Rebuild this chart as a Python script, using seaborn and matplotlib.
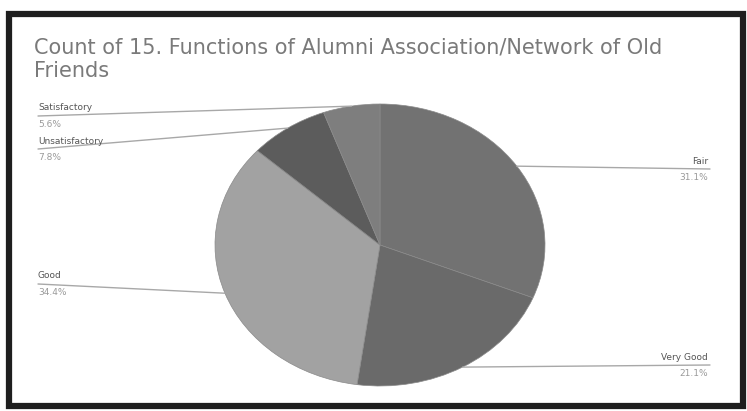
import matplotlib
matplotlib.use("Agg")
import matplotlib.pyplot as plt
from matplotlib.patches import Rectangle
from matplotlib.lines import Line2D
import numpy as np
import seaborn as sns

# Data (counts, n = 90)
categories = ["Fair", "Very Good", "Good", "Unsatisfactory", "Satisfactory"]
counts = [28, 19, 31, 7, 5]
pct_labels = ["31.1%", "21.1%", "34.4%", "7.8%", "5.6%"]
colors = ["#727272", "#6a6a6a", "#a2a2a2", "#5c5c5c", "#7e7e7e"]

sns.set_style("white")
plt.rcParams["font.family"] = ["DejaVu Sans"]

W, H = 747, 411
fig = plt.figure(figsize=(W / 100, H / 100), dpi=100)
fig.patch.set_facecolor("white")


def fx(x):
    return x / W


def fy(y):
    return 1 - y / H


# scanned frame
fig.patches.append(Rectangle((fx(9), fy(406)), fx(734), 392 / H, transform=fig.transFigure,
                             fill=False, edgecolor="#1e1e1e", linewidth=4.5))

fig.text(fx(34), fy(59), "Count of 15. Functions of Alumni Association/Network of Old\nFriends",
         fontsize=15, color="#7a7a7a", ha="left", va="center", linespacing=1.2)

# pie drawn in an axes stretched to the elliptical scan
ax = fig.add_axes([fx(215), fy(386), fx(545) - fx(215), (386 - 104) / H])
wedges, _ = ax.pie(counts, colors=colors, startangle=90, counterclock=False,
                   wedgeprops=dict(linewidth=0.5, edgecolor="#8a8a8a"))
ax.set_xlim(-1, 1)
ax.set_ylim(-1, 1)
ax.set_aspect("auto")
ax.axis("off")

fig.canvas.draw()
to_fig = ax.transData + fig.transFigure.inverted()

# label placement (pixels): side, text x, leader line y
label_pos = {
    "Satisfactory": ("left", 38, 116),
    "Unsatisfactory": ("left", 38, 149),
    "Good": ("left", 38, 284),
    "Fair": ("right", 708, 169),
    "Very Good": ("right", 708, 365),
}

for w, name, pct in zip(wedges, categories, pct_labels):
    side, tx, ly = label_pos[name]
    mid = np.deg2rad((w.theta1 + w.theta2) / 2)
    px, py = to_fig.transform((np.cos(mid), np.sin(mid)))
    end = fx(tx) if side == "left" else fx(tx + 2)
    fig.lines.append(Line2D([end, px], [fy(ly), py], transform=fig.transFigure,
                            color="#a8a8a8", linewidth=1.0))
    ha = "left" if side == "left" else "right"
    fig.text(fx(tx), fy(ly - 8), name, fontsize=6.5, color="#555555", ha=ha, va="center")
    fig.text(fx(tx), fy(ly + 8), pct, fontsize=6.5, color="#9a9a9a", ha=ha, va="center")

fig.savefig("out.png", dpi=100)
